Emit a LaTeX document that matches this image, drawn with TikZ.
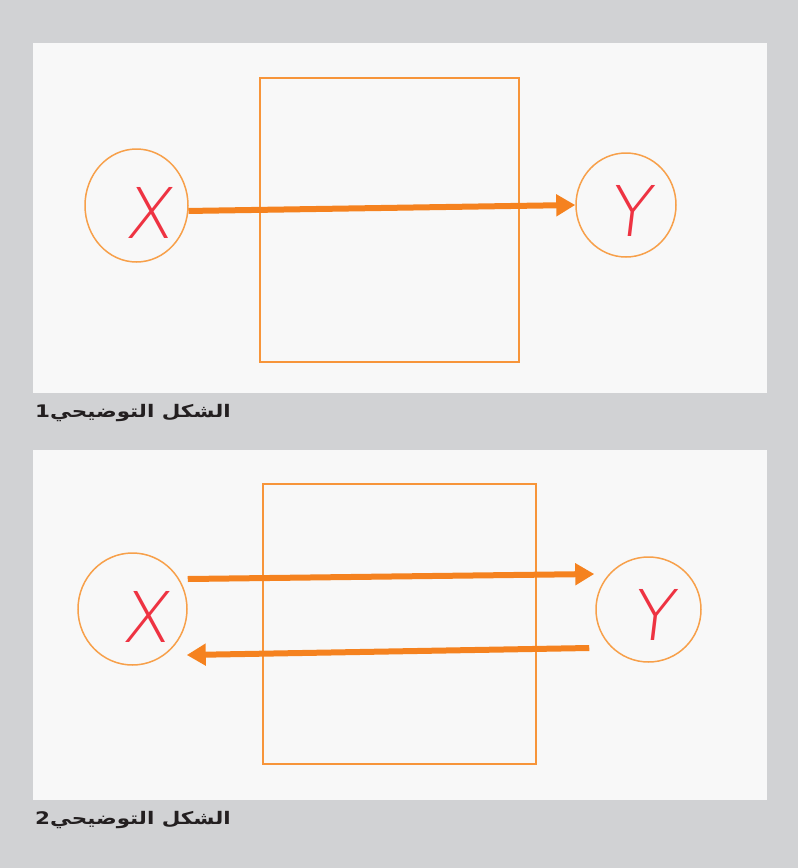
\documentclass[tikz,border=0pt]{standalone}
\usepackage{fontspec}
\usetikzlibrary{shapes.geometric,arrows.meta,calc}
\TeXXeTstate=1
\newfontfamily\arabicfont[Script=Arabic]{DejaVu Sans}
\newfontfamily\handfont[FakeSlant=0.12]{DejaVu Sans ExtraLight}
\definecolor{bggray}{HTML}{D1D2D4}
\definecolor{panelbg}{HTML}{F8F8F8}
\definecolor{boxorange}{HTML}{F7953A}
\definecolor{ringorange}{HTML}{F7A04A}
\definecolor{arroworange}{HTML}{F5821F}
\definecolor{handred}{HTML}{EE3342}
\definecolor{captionblack}{HTML}{231F20}
\tikzset{
  panel/.style={fill=panelbg, draw=none},
  boxrect/.style={draw=boxorange, line width=1.5pt},
  ring/.style={ellipse, draw=ringorange, line width=1.5pt, inner sep=0pt},
  letter/.style={text=handred, font=\handfont\fontsize{70}{70}\selectfont, inner sep=0pt},
  arr/.style={draw=arroworange, line width=6pt, -{Triangle[length=19pt,width=21pt]}},
  caption/.style={text=captionblack, font=\arabicfont\bfseries\fontsize{16.5}{19}\selectfont, anchor=west, inner sep=0pt}
}
\begin{document}
\begin{tikzpicture}[x=1pt,y=-1pt]
\useasboundingbox (0,0) rectangle (798,868);
\fill[bggray] (0,0) rectangle (798,868);
% panel 1
\fill[panel] (33,43) rectangle (767,393);
\draw[boxrect] (260,78) rectangle (519,362);
\node[ring, minimum width=103pt, minimum height=113pt] (x1) at (136.5,205.5) {};
\node[ring, minimum width=100pt, minimum height=104pt] (y1) at (626,205) {};
\node[letter] (lx1) at (148,213) {X};
\node[letter] (ly1) at (630,211) {Y};
\draw[arr] (x1.-6) -- (y1.west);
\node[caption] (cap1) at (35,413.5) {\scalebox{1.3}[1.05]{\beginR الشكل التوضيحي1\endR}};
% panel 2
\fill[panel] (33,450) rectangle (767,800);
\draw[boxrect] (263,484) rectangle (536,764);
\node[ring, minimum width=109pt, minimum height=112pt] (x2) at (132.5,609) {};
\node[ring, minimum width=105pt, minimum height=105pt] (y2) at (648.5,609.5) {};
\node[letter] (lx2) at (145,617) {X};
\node[letter] (ly2) at (653,615) {Y};
\coordinate (a1s) at ([yshift=30pt]x2.east);
\coordinate (a1e) at ([xshift=-1pt,yshift=35.5pt]y2.west);
\coordinate (a2s) at ([xshift=-6pt,yshift=-38.5pt]y2.west);
\coordinate (a2e) at ([xshift=-1pt,yshift=-46pt]x2.east);
\draw[arr] (a1s) -- (a1e);
\draw[arr] (a2s) -- (a2e);
\node[caption] (cap2) at (35,820) {\scalebox{1.3}[1.05]{\beginR الشكل التوضيحي2\endR}};
\end{tikzpicture}
\end{document}
